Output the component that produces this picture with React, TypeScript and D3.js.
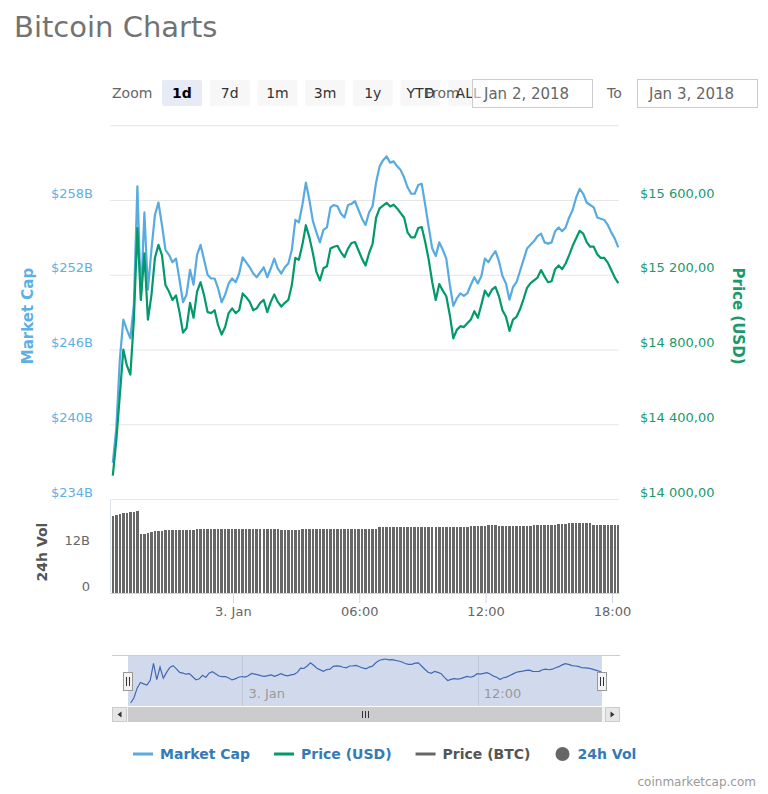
import React, { useEffect, useRef } from "react";
import * as d3 from "d3";

// 10 minute samples, Jan 2 2018 18:18 -> Jan 3 2018 18:18
const firstPoint = new Date(2018, 0, 2, 18, 18);
const stepMinutes = 10;

// market cap, billions USD
const marketCap = [
  236.9, 239.7, 245.2, 248.4, 247.6, 246.9, 249.6, 259.1, 250.0, 257.0,
  250.8, 254.0, 256.8, 257.8, 256.0, 254.0, 253.6, 253.0, 253.3, 251.6,
  249.8, 250.4, 252.4, 251.2, 253.6, 254.4, 253.2, 252.0, 251.7, 251.7,
  250.9, 249.8, 250.4, 251.3, 251.7, 251.4, 252.1, 253.4, 253.0, 252.6,
  252.1, 251.8, 252.2, 252.6, 251.8, 252.5, 253.3, 252.5, 252.1, 252.6,
  252.9, 254.0, 256.4, 256.2, 257.6, 259.4, 258.0, 256.3, 255.4, 254.6,
  255.6, 255.8, 257.4, 257.6, 257.5, 256.9, 256.6, 257.6, 257.7, 257.9,
  257.2, 256.5, 256.0, 257.0, 257.5, 259.4, 260.7, 261.2, 261.5, 261.0,
  261.1, 260.7, 260.4, 259.8, 259.0, 258.5, 258.5, 259.2, 259.3, 257.6,
  255.8, 254.1, 253.5, 254.6, 254.0, 253.3, 251.2, 249.5, 250.1, 250.5,
  250.3, 250.5, 251.2, 251.8, 251.3, 251.9, 253.3, 253.0, 253.5, 253.9,
  253.1, 251.9, 251.3, 250.0, 251.0, 251.4, 252.3, 253.2, 254.1, 254.4,
  254.7, 255.1, 255.3, 254.6, 254.5, 254.6, 255.5, 255.8, 255.5, 255.8,
  256.6, 257.2, 258.2, 258.9, 258.5, 257.8, 257.6, 257.4, 256.6, 256.5,
  256.4, 256.0, 255.4, 254.9, 254.2,
];

// price, USD
const priceUsd = [
  14125, 14315, 14555, 14800, 14715, 14665, 14960, 15450, 15065, 15315,
  14960, 15090, 15290, 15360, 15305, 15145, 15110, 15065, 15090, 15000,
  14890, 14915, 15050, 14970, 15110, 15160, 15090, 15000, 14995, 15010,
  14930, 14880, 14920, 14995, 15020, 14995, 15010, 15100, 15080, 15055,
  15010, 15020, 15050, 15065, 15000, 15055, 15095, 15055, 15030, 15050,
  15065, 15145, 15290, 15280, 15360, 15465, 15400, 15315, 15215, 15170,
  15235, 15245, 15340, 15350, 15355, 15320, 15295, 15340, 15370, 15375,
  15330, 15285, 15250, 15315, 15365, 15505, 15555, 15570, 15585, 15565,
  15575, 15555, 15530, 15505, 15425, 15400, 15400, 15450, 15455, 15375,
  15280, 15160, 15065, 15150, 15115, 15085, 14985, 14860, 14905, 14925,
  14920, 14940, 14960, 15005, 14970, 15040, 15115, 15085, 15120, 15135,
  15085, 15010, 14975, 14900, 14960, 14975, 15015, 15070, 15130, 15155,
  15170, 15185, 15225, 15190, 15160, 15165, 15230, 15250, 15230, 15260,
  15305, 15355, 15395, 15435, 15420, 15375, 15350, 15350, 15310, 15290,
  15290, 15265, 15225, 15185, 15155,
];

// 24h volume, billions USD
const volume24h = [
  20.2, 20.4, 20.6, 20.8, 21.0, 21.1, 21.2, 21.4, 15.3, 15.5,
  15.6, 15.9, 16.2, 16.2, 16.2, 16.4, 16.4, 16.4, 16.4, 16.4,
  16.4, 16.4, 16.4, 16.5, 16.8, 16.8, 16.8, 16.8, 16.8, 16.8,
  16.8, 16.8, 16.8, 16.8, 16.8, 16.8, 16.8, 16.8, 16.8, 16.8,
  16.8, 16.8, 16.8, 16.8, 16.8, 16.8, 16.8, 16.8, 16.4, 16.4,
  16.4, 16.4, 16.4, 16.4, 16.8, 16.8, 16.8, 16.8, 16.8, 16.8,
  16.8, 16.8, 16.8, 16.8, 16.8, 16.8, 16.8, 16.8, 16.8, 16.8,
  16.8, 16.8, 16.8, 16.8, 16.8, 16.8, 17.1, 17.1, 17.1, 17.1,
  17.1, 17.1, 17.1, 17.1, 17.1, 17.1, 17.1, 17.1, 17.1, 17.1,
  17.1, 17.1, 17.1, 17.1, 17.1, 17.1, 17.1, 17.1, 17.1, 17.1,
  17.1, 17.1, 17.5, 17.5, 17.5, 17.5, 17.5, 17.8, 17.8, 17.8,
  17.5, 17.5, 17.5, 17.5, 17.5, 17.5, 17.5, 17.5, 17.5, 17.5,
  17.8, 17.8, 17.8, 17.8, 17.8, 17.8, 17.8, 18.0, 18.0, 18.0,
  18.2, 18.2, 18.2, 18.2, 18.2, 18.2, 18.2, 17.8, 17.8, 17.8,
  17.8, 17.8, 17.8, 17.8, 17.8,
];

const capTicks = [234, 240, 246, 252, 258, 264];
const priceTicks = [14000, 14400, 14800, 15200, 15600];
const volTicks = [0, 12];
const timeTicks = [
  new Date(2018, 0, 3, 0, 0),
  new Date(2018, 0, 3, 6, 0),
  new Date(2018, 0, 3, 12, 0),
  new Date(2018, 0, 3, 18, 0),
];
const navigatorTicks = [new Date(2018, 0, 3, 0, 0), new Date(2018, 0, 3, 12, 0)];
const zoomButtons = ["1d", "7d", "1m", "3m", "1y", "YTD", "ALL"];
const dateFrom = "Jan 2, 2018";
const dateTo = "Jan 3, 2018";
const legendNames = ["Market Cap", "Price (USD)", "Price (BTC)", "24h Vol"];

const BLUE = "#58abe0";
const GREEN = "#03996b";
const FONT = "'DejaVu Sans', Verdana, sans-serif";

const App = () => {
  const svgRef = useRef(null);
  const svgWidth = 768;
  const svgHeight = 794;
  const plot = { left: 110, right: 619, top: 125.25, bottom: 499 };
  const vol = { top: 501, bottom: 593 };

  useEffect(() => {
    const svg = d3
      .select(svgRef.current)
      .attr("width", svgWidth)
      .attr("height", svgHeight)
      .attr("font-family", FONT);

    svg.selectAll("*").remove();

    const times = marketCap.map(
      (_, i) => new Date(firstPoint.getTime() + i * stepMinutes * 60000)
    );
    const domainStart = new Date(2018, 0, 2, 18, 10);
    const domainEnd = new Date(2018, 0, 3, 18, 20);

    // title
    svg
      .append("text")
      .attr("x", 14)
      .attr("y", 37)
      .attr("font-size", 29)
      .attr("fill", "#737373")
      .text("Bitcoin Charts");

    // range selector
    const toolbar = svg.append("g");
    toolbar
      .append("text")
      .attr("x", 112)
      .attr("y", 98)
      .attr("font-size", 14)
      .attr("fill", "#666")
      .text("Zoom");

    const btnX = (i) => 162 + i * 47.7;
    toolbar
      .selectAll("rect.btn")
      .data(zoomButtons)
      .enter()
      .append("rect")
      .attr("class", "btn")
      .attr("x", (d, i) => btnX(i))
      .attr("y", 80)
      .attr("width", 40)
      .attr("height", 26)
      .attr("rx", 2)
      .attr("fill", (d, i) => (i === 0 ? "#e6ebf5" : "#f7f7f7"));

    // the "From" label sits under the last buttons, as in the original layout
    toolbar
      .append("text")
      .attr("x", 425)
      .attr("y", 98)
      .attr("font-size", 14)
      .attr("fill", "#666")
      .text("From");

    toolbar
      .selectAll("text.btn")
      .data(zoomButtons)
      .enter()
      .append("text")
      .attr("class", "btn")
      .attr("x", (d, i) => btnX(i) + 20)
      .attr("y", 98)
      .attr("text-anchor", "middle")
      .attr("font-size", 14)
      .attr("font-weight", (d, i) => (i === 0 ? "bold" : "normal"))
      .attr("fill", (d, i) => (i === 0 ? "#000" : "#333"))
      .text((d) => d);

    const inputs = [
      { x: 472, label: dateFrom },
      { x: 637, label: dateTo },
    ];
    inputs.forEach((inp) => {
      toolbar
        .append("rect")
        .attr("x", inp.x + 0.5)
        .attr("y", 79.5)
        .attr("width", 120)
        .attr("height", 28)
        .attr("fill", "#fff")
        .attr("fill-opacity", 0.6)
        .attr("stroke", "#cccccc");
      toolbar
        .append("text")
        .attr("x", inp.x + 12)
        .attr("y", 99)
        .attr("font-size", 15)
        .attr("fill", "#666")
        .text(inp.label);
    });
    toolbar
      .append("text")
      .attr("x", 607)
      .attr("y", 98)
      .attr("font-size", 14)
      .attr("fill", "#666")
      .text("To");

    // scales
    const xScale = d3
      .scaleTime()
      .domain([domainStart, domainEnd])
      .range([plot.left, plot.right]);
    const capScale = d3
      .scaleLinear()
      .domain([234, 264])
      .range([plot.bottom, plot.top]);
    const priceScale = d3
      .scaleLinear()
      .domain([14000, 16000])
      .range([plot.bottom, plot.top]);
    const volScale = d3
      .scaleLinear()
      .domain([0, 24])
      .range([vol.bottom, vol.top]);

    const priceLocale = d3.formatLocale({
      decimal: ",",
      thousands: " ",
      grouping: [3],
      currency: ["$", ""],
    });
    const priceFormat = priceLocale.format("$,.2f");

    // left axis with gridlines
    const capAxisG = svg
      .append("g")
      .attr("transform", `translate(${plot.left},0)`)
      .call(
        d3
          .axisLeft(capScale)
          .tickValues(capTicks)
          .tickSize(-(plot.right - plot.left))
          .tickPadding(17)
          .tickFormat((d) => (d === 264 ? "" : `$${d}B`))
      );
    capAxisG.select(".domain").remove();
    capAxisG.selectAll("line").attr("stroke", "#e6e6e6");
    capAxisG
      .selectAll("text")
      .attr("y", -7)
      .attr("font-size", 13)
      .attr("font-family", FONT)
      .attr("fill", "#5fb0e2");

    // right axis
    const priceAxisG = svg
      .append("g")
      .attr("transform", `translate(${plot.right},0)`)
      .call(
        d3
          .axisRight(priceScale)
          .tickValues(priceTicks)
          .tickSize(0)
          .tickPadding(21)
          .tickFormat(priceFormat)
      );
    priceAxisG.select(".domain").remove();
    priceAxisG
      .selectAll("text")
      .attr("y", -7)
      .attr("font-size", 13)
      .attr("font-family", FONT)
      .attr("fill", "#1a9a6c");

    // volume axis
    const volAxisG = svg
      .append("g")
      .attr("transform", `translate(${plot.left},0)`)
      .call(
        d3
          .axisLeft(volScale)
          .tickValues(volTicks)
          .tickSize(-(plot.right - plot.left))
          .tickPadding(20)
          .tickFormat((d) => (d === 0 ? "0" : `${d}B`))
      );
    volAxisG.select(".domain").remove();
    volAxisG.selectAll("line").attr("stroke", "#e6e6e6");
    volAxisG
      .selectAll("text")
      .attr("y", -7)
      .attr("font-size", 13)
      .attr("font-family", FONT)
      .attr("fill", "#666");

    svg
      .append("line")
      .attr("x1", plot.left + 0.5)
      .attr("x2", plot.left + 0.5)
      .attr("y1", plot.bottom)
      .attr("y2", vol.bottom)
      .attr("stroke", "#dde3ee");

    // axis titles
    svg
      .append("text")
      .attr("transform", "translate(33,316) rotate(-90)")
      .attr("text-anchor", "middle")
      .attr("font-size", 15)
      .attr("font-weight", "bold")
      .attr("fill", "#5fb0e2")
      .text("Market Cap");
    svg
      .append("text")
      .attr("transform", "translate(733,316) rotate(90)")
      .attr("text-anchor", "middle")
      .attr("font-size", 15)
      .attr("font-weight", "bold")
      .attr("fill", "#1a9a6c")
      .text("Price (USD)");
    svg
      .append("text")
      .attr("transform", "translate(47,552) rotate(-90)")
      .attr("text-anchor", "middle")
      .attr("font-size", 14)
      .attr("font-weight", "bold")
      .attr("fill", "#555")
      .text("24h Vol");

    // volume bars
    svg
      .append("defs")
      .append("clipPath")
      .attr("id", "plotClip")
      .append("rect")
      .attr("x", plot.left + 1)
      .attr("y", plot.top - 5)
      .attr("width", plot.right - plot.left - 1)
      .attr("height", vol.bottom - plot.top + 5);

    const barLeft = (i) => Math.round(xScale(times[i]) - 1.25);
    const barRight = (i) => Math.round(xScale(times[i]) + 1.25);
    svg
      .append("g")
      .attr("clip-path", "url(#plotClip)")
      .attr("shape-rendering", "crispEdges")
      .selectAll("rect")
      .data(volume24h)
      .enter()
      .append("rect")
      .attr("x", (d, i) => barLeft(i))
      .attr("y", (d) => Math.round(volScale(d)))
      .attr("width", (d, i) => barRight(i) - barLeft(i))
      .attr("height", (d) => vol.bottom - Math.round(volScale(d)))
      .attr("fill", "#676767");

    // x axis
    const timeLabel = (d) =>
      d.getHours() === 0 ? `${d.getDate()}. Jan` : d3.timeFormat("%H:%M")(d);
    const xAxisG = svg
      .append("g")
      .attr("transform", `translate(0,${vol.bottom})`)
      .call(
        d3
          .axisBottom(xScale)
          .tickValues(timeTicks)
          .tickSize(10)
          .tickSizeOuter(0)
          .tickPadding(4)
          .tickFormat(timeLabel)
      );
    xAxisG.select(".domain").attr("stroke", "#ccd6eb");
    xAxisG.selectAll("line").attr("stroke", "#ccd6eb");
    xAxisG
      .selectAll("text")
      .attr("font-size", 13)
      .attr("font-family", FONT)
      .attr("fill", "#666");

    // lines
    const capLine = d3
      .line()
      .x((d, i) => xScale(times[i]))
      .y((d) => capScale(d));
    const priceLine = d3
      .line()
      .x((d, i) => xScale(times[i]))
      .y((d) => priceScale(d));

    svg
      .append("path")
      .datum(marketCap)
      .attr("d", capLine)
      .attr("fill", "none")
      .attr("stroke", BLUE)
      .attr("stroke-width", 2.2)
      .attr("stroke-linejoin", "round");
    svg
      .append("path")
      .datum(priceUsd)
      .attr("d", priceLine)
      .attr("fill", "none")
      .attr("stroke", GREEN)
      .attr("stroke-width", 2.2)
      .attr("stroke-linejoin", "round");

    // navigator
    const nav = { left: 112, right: 620, top: 656, bottom: 706 };
    const navX = d3.scaleTime().domain([domainStart, domainEnd]).range([128, 602]);
    const navY = d3.scaleLinear().domain(d3.extent(marketCap)).range([703, 659]);
    const navG = svg.append("g");

    navG
      .selectAll("line.grid")
      .data(navigatorTicks)
      .enter()
      .append("line")
      .attr("x1", (d) => Math.round(navX(d)) + 0.5)
      .attr("x2", (d) => Math.round(navX(d)) + 0.5)
      .attr("y1", nav.top)
      .attr("y2", nav.bottom)
      .attr("stroke", "#e6e6e6");

    navG
      .append("path")
      .datum(marketCap)
      .attr(
        "d",
        d3
          .line()
          .x((d, i) => navX(times[i]))
          .y((d) => navY(d))
      )
      .attr("fill", "none")
      .attr("stroke", "#335cad")
      .attr("stroke-width", 1.2);

    navG
      .append("rect")
      .attr("x", navX(domainStart))
      .attr("y", nav.top)
      .attr("width", navX(domainEnd) - navX(domainStart))
      .attr("height", nav.bottom - nav.top)
      .attr("fill", "rgba(102,133,194,0.3)");

    navG
      .append("line")
      .attr("x1", nav.left)
      .attr("x2", nav.right)
      .attr("y1", nav.top - 0.5)
      .attr("y2", nav.top - 0.5)
      .attr("stroke", "#cccccc");

    navG
      .selectAll("text")
      .data(navigatorTicks)
      .enter()
      .append("text")
      .attr("x", (d) => navX(d) + 6)
      .attr("y", 698)
      .attr("font-size", 13)
      .attr("fill", "#999")
      .text(timeLabel);

    [navX(domainStart), navX(domainEnd)].forEach((hx) => {
      const h = navG.append("g").attr("transform", `translate(${Math.round(hx)},672)`);
      h.append("rect")
        .attr("x", -4.5)
        .attr("y", 0.5)
        .attr("width", 9)
        .attr("height", 18)
        .attr("fill", "#f2f2f2")
        .attr("stroke", "#999");
      [-1.5, 1.5].forEach((dx) =>
        h
          .append("line")
          .attr("x1", dx)
          .attr("x2", dx)
          .attr("y1", 5)
          .attr("y2", 14)
          .attr("stroke", "#333")
      );
    });

    // scrollbar
    const sb = { top: 707, h: 15 };
    navG
      .append("rect")
      .attr("x", nav.left)
      .attr("y", sb.top)
      .attr("width", nav.right - nav.left)
      .attr("height", sb.h)
      .attr("fill", "#f2f2f2");
    navG
      .append("rect")
      .attr("x", navX(domainStart))
      .attr("y", sb.top)
      .attr("width", navX(domainEnd) - navX(domainStart))
      .attr("height", sb.h)
      .attr("fill", "#cccccc");
    const midBar = (navX(domainStart) + navX(domainEnd)) / 2;
    [-3, 0, 3].forEach((dx) =>
      navG
        .append("line")
        .attr("x1", Math.round(midBar + dx) + 0.5)
        .attr("x2", Math.round(midBar + dx) + 0.5)
        .attr("y1", sb.top + 4)
        .attr("y2", sb.top + 11)
        .attr("stroke", "#333")
    );
    [
      { x: nav.left, dir: -1 },
      { x: nav.right - sb.h, dir: 1 },
    ].forEach((b) => {
      navG
        .append("rect")
        .attr("x", b.x + 0.5)
        .attr("y", sb.top + 0.5)
        .attr("width", sb.h - 1)
        .attr("height", sb.h - 1)
        .attr("fill", "#e6e6e6")
        .attr("stroke", "#cccccc");
      const cx = b.x + sb.h / 2;
      const cy = sb.top + sb.h / 2;
      navG
        .append("path")
        .attr(
          "d",
          `M${cx + 2 * b.dir},${cy} L${cx - 2 * b.dir},${cy - 3} L${cx - 2 * b.dir},${cy + 3} Z`
        )
        .attr("fill", "#333");
    });

    // legend
    const legendSymbols = [
      { type: "line", color: BLUE, text: "#337ab7" },
      { type: "line", color: GREEN, text: "#337ab7" },
      { type: "line", color: "#666", text: "#555" },
      { type: "circle", color: "#666", text: "#337ab7" },
    ];
    const legendG = svg.append("g");
    let lx = 133;
    legendNames.forEach((name, i) => {
      const sym = legendSymbols[i];
      if (sym.type === "line") {
        legendG
          .append("line")
          .attr("x1", lx)
          .attr("x2", lx + 20)
          .attr("y1", 754)
          .attr("y2", 754)
          .attr("stroke", sym.color)
          .attr("stroke-width", 3);
      } else {
        legendG
          .append("circle")
          .attr("cx", lx + 8)
          .attr("cy", 754)
          .attr("r", 7)
          .attr("fill", sym.color);
      }
      const t = legendG
        .append("text")
        .attr("x", lx + (sym.type === "line" ? 27 : 23))
        .attr("y", 759)
        .attr("font-size", 14)
        .attr("font-weight", "bold")
        .attr("fill", sym.text)
        .text(name);
      const w = t.node().getComputedTextLength();
      lx = lx + (sym.type === "line" ? 27 : 23) + w + 24;
    });

    svg
      .append("text")
      .attr("x", 756)
      .attr("y", 786)
      .attr("text-anchor", "end")
      .attr("font-size", 12)
      .attr("fill", "#999")
      .text("coinmarketcap.com");
  }, []);

  return (
    <svg
      ref={svgRef}
      style={{ position: "absolute", left: 0, top: 0, background: "#fff" }}
    ></svg>
  );
};

export default App;
